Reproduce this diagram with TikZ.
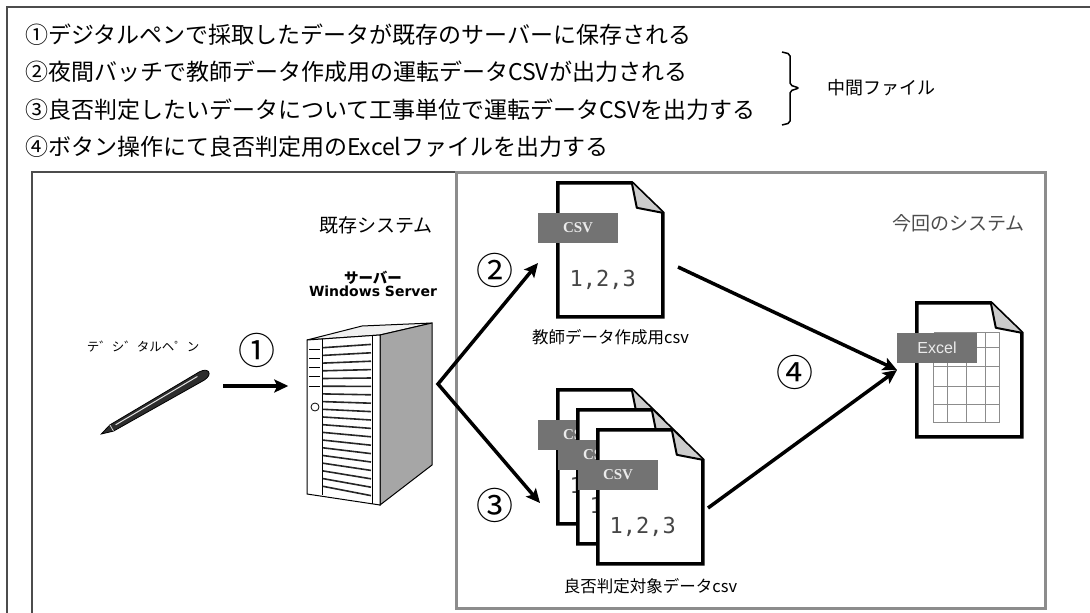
\documentclass[tikz,border=0pt]{standalone}
\usepackage{fontspec}
\setmainfont{Noto Sans CJK JP}
\newfontfamily\latinsans{DejaVu Sans}
\newfontfamily\digitfont{DejaVu Sans Mono}
\newfontfamily\tagserif{Liberation Serif}
\newfontfamily\tagsans{Liberation Sans}
\usetikzlibrary{arrows.meta,positioning}

% a sheet of paper with a folded corner, origin at its top left
\tikzset{
  doc/.pic={
    \draw[line width=3.5pt, fill=white, line join=miter] (0,0) -- (74,0) -- (105,30) -- (105,134) -- (0,134) -- cycle;
    \draw[line width=2pt, fill=gray!40, line join=round] (74,0) -- (79,25) -- (105,30);
  },
  >={Stealth[length=14pt,width=13pt,inset=3pt]},
}

\begin{document}
\begin{tikzpicture}[x=1pt, y=-1pt,
    head/.style={anchor=west, inner sep=0pt, font=\fontsize{23}{28}\selectfont},
    caption/.style={inner sep=0pt, font=\fontsize{16.5}{20}\selectfont},
    stepno/.style={inner sep=0pt, font=\fontsize{37}{40}\selectfont},
    flow/.style={line width=3.5pt, ->, line join=miter},
    tag/.style={anchor=north west, fill=black!55, text=white!92!black, minimum width=80pt, minimum height=30pt, inner sep=0pt},
    digits/.style={inner sep=0pt, text=gray!55!black, font=\digitfont\fontsize{22}{24}\selectfont},
    docbox/.style={minimum width=105pt, minimum height=134pt, inner sep=0pt},
    cell/.style={black!45, line width=1.2pt},
  ]
  \useasboundingbox (0,0) rectangle (1090,613);

  % frames
  \draw[line width=1.5pt, gray!60!black] (1090,7) -- (7,7) -- (7,613);
  \draw[line width=1.2pt, gray!60!black] (456,172) -- (32,172) -- (32,613);
  \draw[line width=3pt, black!45] (456,172) rectangle (1045,608);

  % steps
  \node[head] (l1) at (25,35) {①デジタルペンで採取したデータが既存のサーバーに保存される};
  \node[head] (l2) at (25,72) {②夜間バッチで教師データ作成用の運転データCSVが出力される};
  \node[head] (l3) at (25,110) {③良否判定したいデータについて工事単位で運転データCSVを出力する};
  \node[head] (l4) at (25,147) {④ボタン操作にて良否判定用のExcelファイルを出力する};
  \draw[line width=1.5pt, rounded corners=2pt] (782,52) -- (790,54) -- (790,85) -- (799,88) -- (790,91) -- (790,123) -- (782,125);
  \node[anchor=west, inner sep=0pt, font=\fontsize{18}{20}\selectfont] (mid) at (827,88) {中間ファイル};

  % system titles
  \node[inner sep=0pt, font=\fontsize{19}{22}\selectfont] (oldsys) at (376,225) {既存システム};
  \node[anchor=east, inner sep=0pt, text=gray!60!black, font=\fontsize{19}{22}\selectfont] (newsys) at (1025,223) {今回のシステム};

  % pen
  \node[minimum width=110pt, minimum height=65pt] (pen) at (155,403) {};
  \begin{scope}[shift={(pen.center)}, rotate=30]
    \draw[fill=gray!35!black, line width=0.8pt] (-62,0) -- (-50,-3.6) -- (54,-4.8) .. controls (60,-4.5) and (62,-2) .. (62,0) .. controls (62,2) and (60,4.5) .. (54,4.8) -- (-50,3.6) -- cycle;
    \draw[gray!20, line width=1pt] (-45,-0.8) -- (50,-1.8);
    \draw[gray!30, line width=0.8pt] (-50,-3.6) -- (-50,3.6);
  \end{scope}
  \node[inner sep=0pt, font=\fontsize{12.5}{14}\selectfont] (penname) at (143,347) {テ゛シ゛タルヘ゜ン};

  % server tower
  \node[minimum width=125pt, minimum height=185pt] (srv) at (370,415) {};
  \filldraw[fill=gray!12, line width=1pt] (307,340) -- (362,326) -- (432,323) -- (380,335) -- cycle;
  \filldraw[fill=black!35, line width=1pt] (380,335) -- (432,323) -- (432,465) -- (380,505) -- cycle;
  \filldraw[fill=white, line width=1pt] (307,340) -- (380,335) -- (380,505) -- (307,494) -- cycle;
  \draw[line width=0.8pt] (322,339) -- (322,495);
  \draw[line width=0.8pt] (372,336) -- (372,504);
  \foreach \t in {0.05,0.1,...,0.96}
    \draw[line width=1.6pt, gray!30!black] (323,{340+154*\t}) -- (371,{336+168*\t});
  \foreach \t in {0.06,0.12,...,0.31}
    \draw[line width=1pt] (309,{340+154*\t}) -- (320,{340+154*\t});
  \draw[line width=0.8pt] (315,407) circle (4);
  \node[inner sep=0pt, font=\bfseries\fontsize{14.5}{16}\selectfont] (srvname) at (373,278) {サーバー};
  \node[inner sep=0pt, below=1pt of srvname, font=\latinsans\bfseries\fontsize{14}{16}\selectfont] (srvos) {Windows Server};

  % step 1
  \coordinate (p1) at (223,386);
  \draw[flow, shorten >=19pt] (p1) -- (p1 -| srv.west);
  \node[stepno] (n1) at (257,350) {①};

  % csv for training data
  \node[docbox] (csv1) at (610.5,250) {};
  \pic at (csv1.north west) {doc};
  \node[tag] (csv1tag) at ([shift={(-20,30)}]csv1.north west) {\tagserif\bfseries\fontsize{15}{16}\selectfont CSV};
  \node[digits] (csv1data) at ([shift={(45,97)}]csv1.north west) {1,2,3};
  \node[caption, below=12pt of csv1] (csv1name) {教師データ作成用csv};

  % csv files to be judged
  \foreach \d/\nm in {0/a,20/b,40/c} {
    \node[docbox] (stack\nm) at ({610.5+\d},{457+\d}) {};
    \pic at (stack\nm.north west) {doc};
    \node[tag] (tag\nm) at ([shift={(-20,30)}]stack\nm.north west) {\tagserif\bfseries\fontsize{15}{16}\selectfont CSV};
    \node[digits] (data\nm) at ([shift={(45,97)}]stack\nm.north west) {1,2,3};
  }
  \node[caption, below=14pt of stackc] (stackname) {良否判定対象データcsv};

  % excel sheet
  \node[docbox] (xls) at (969.5,370) {};
  \pic at (xls.north west) {doc};
  \begin{scope}[shift={(xls.north west)}]
    \foreach \gx in {17,31,50,69,83} \draw[cell] (\gx,30) -- (\gx,120);
    \foreach \gy in {30,45,64,84,102,120} \draw[cell] (17,\gy) -- (83,\gy);
  \end{scope}
  \node[tag] (xlstag) at ([shift={(-20,30)}]xls.north west) {\tagsans\fontsize{16}{18}\selectfont Excel};

  % steps 2 and 3
  \coordinate (fork) at (438,384);
  \coordinate (tip2) at (538,263);
  \coordinate (tip3) at (540,503);
  \draw[flow, <->] (tip2) -- (fork) -- (tip3);
  \node[stepno] (n2) at (495,270) {②};
  \node[stepno] (n3) at (495,505) {③};

  % step 4
  \coordinate (src4a) at (678,267);
  \coordinate (src4b) at (708,508);
  \coordinate (tip4) at (897,370);
  \draw[flow] (src4a) -- (tip4);
  \draw[flow] (src4b) -- (tip4);
  \node[stepno] (n4) at (795,372) {④};
\end{tikzpicture}
\end{document}
